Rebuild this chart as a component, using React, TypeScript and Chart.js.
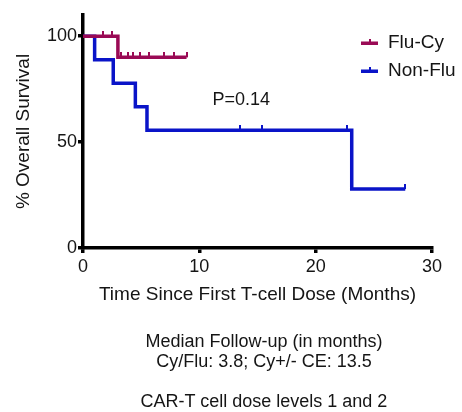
import React, { useEffect, useRef } from "react";
import { Chart, registerables } from "chart.js";

Chart.register(...registerables);

// ---- data ----
const seriesNames = ["Flu-Cy", "Non-Flu"];
const seriesColors = ["#9a0a55", "#0a14c8"];

const fluCyTimes = [0, 3.0, 8.9];
const fluCySurvival = [100, 90, 90];
const fluCyCensorTimes = [1.75, 2.45, 3.3, 3.9, 4.3, 4.9, 5.7, 7.0, 7.8, 8.9];
const fluCyCensorSurvival = [100, 100, 90, 90, 90, 90, 90, 90, 90, 90];

const nonFluTimes = [0, 1.0, 2.6, 4.5, 5.5, 23.1, 27.7];
const nonFluSurvival = [100, 88.9, 77.8, 66.7, 55.6, 27.8, 27.8];
const nonFluCensorTimes = [13.5, 15.4, 22.7, 27.7];
const nonFluCensorSurvival = [55.6, 55.6, 55.6, 27.8];

const yTickValues = [0, 50, 100];
const xMin = 0;
const xMax = 30;
const xStep = 10;
const yMin = 0;
const yMax = 110;

const xTitle = "Time Since First T-cell Dose (Months)";
const yTitle = "% Overall Survival";
const pValueText = "P=0.14";
const pValueAt = { x: 13.6, y: 70 };
const captionLines = [
  "Median Follow-up (in months)",
  "Cy/Flu: 3.8; Cy+/- CE: 13.5",
  "",
  "CAR-T cell dose levels 1 and 2",
];

const FONT = '"Liberation Sans", Arial, Helvetica, sans-serif';
const TEXT = "#151515";

function toPoints(xs: number[], ys: number[]) {
  return xs.map((x, i) => ({ x, y: ys[i] }));
}

function makeTick(color: string): HTMLCanvasElement {
  const c = document.createElement("canvas");
  c.width = 2;
  c.height = 10;
  const g = c.getContext("2d")!;
  g.fillStyle = color;
  g.fillRect(0, 0, 2, 5);
  return c;
}

const overlayPlugin = {
  id: "overlayText",
  afterDraw(chart: any) {
    const ctx = chart.ctx;
    const xs = chart.scales.x;
    const ys = chart.scales.y;
    ctx.save();
    // p-value annotation
    ctx.font = `18px ${FONT}`;
    ctx.fillStyle = TEXT;
    ctx.textAlign = "center";
    ctx.textBaseline = "middle";
    ctx.fillText(pValueText, xs.getPixelForValue(pValueAt.x), ys.getPixelForValue(pValueAt.y));
    // legend
    const rowY = [43, 71];
    seriesNames.forEach((name, i) => {
      const y = rowY[i];
      ctx.fillStyle = seriesColors[i];
      ctx.fillRect(361, y - 1.5, 17, 3.5);
      ctx.fillRect(369, y - 4, 2, 3);
      ctx.fillStyle = TEXT;
      ctx.font = `19px ${FONT}`;
      ctx.textAlign = "left";
      ctx.textBaseline = "middle";
      ctx.fillText(name, 388, y);
    });
    ctx.restore();
  },
};

export default function App() {
  const ref = useRef<HTMLCanvasElement>(null);

  useEffect(() => {
    if (!ref.current) return;
    const lineCommon = {
      borderWidth: 3.5,
      pointRadius: 0,
      fill: false,
      tension: 0,
      stepped: "before" as const,
      borderCapStyle: "butt" as const,
      borderJoinStyle: "miter" as const,
    };
    const chart = new Chart(ref.current, {
      type: "line",
      data: {
        datasets: [
          {
            label: seriesNames[0] + " censored",
            data: toPoints(fluCyCensorTimes, fluCyCensorSurvival),
            showLine: false,
            pointStyle: makeTick(seriesColors[0]) as any,
            pointRadius: 4,
            borderColor: seriesColors[0],
            backgroundColor: seriesColors[0],
          },
          {
            label: seriesNames[0],
            data: toPoints(fluCyTimes, fluCySurvival),
            borderColor: seriesColors[0],
            backgroundColor: seriesColors[0],
            ...lineCommon,
          },
          {
            label: seriesNames[1] + " censored",
            data: toPoints(nonFluCensorTimes, nonFluCensorSurvival),
            showLine: false,
            pointStyle: makeTick(seriesColors[1]) as any,
            pointRadius: 4,
            borderColor: seriesColors[1],
            backgroundColor: seriesColors[1],
          },
          {
            label: seriesNames[1],
            data: toPoints(nonFluTimes, nonFluSurvival),
            borderColor: seriesColors[1],
            backgroundColor: seriesColors[1],
            ...lineCommon,
          },
        ],
      },
      options: {
        animation: false,
        responsive: false,
        devicePixelRatio: 1,
        clip: false as any,
        layout: { padding: { left: 0, top: 15, right: 30, bottom: 104 } },
        plugins: {
          legend: { display: false },
          tooltip: { enabled: false },
        },
        scales: {
          x: {
            type: "linear",
            min: xMin,
            max: xMax,
            afterFit: (s: any) => {
              s.height = 60;
            },
            ticks: {
              stepSize: xStep,
              color: TEXT,
              font: { family: FONT, size: 18 },
              padding: 3,
              maxRotation: 0,
            },
            grid: {
              drawOnChartArea: false,
              drawTicks: true,
              tickLength: 5,
              color: "#000",
              lineWidth: 3.5,
            },
            border: { display: true, color: "#000", width: 3.5 },
            title: {
              display: true,
              text: xTitle,
              color: TEXT,
              font: { family: FONT, size: 19 },
              padding: { top: 0, bottom: 2 },
            },
          },
          y: {
            type: "linear",
            min: yMin,
            max: yMax,
            afterFit: (s: any) => {
              s.width = 83;
            },
            afterBuildTicks: (s: any) => {
              s.ticks = yTickValues.map((v) => ({ value: v }));
            },
            ticks: {
              color: TEXT,
              font: { family: FONT, size: 18 },
              padding: 1,
            },
            grid: {
              drawOnChartArea: false,
              drawTicks: true,
              tickLength: 5,
              color: "#000",
              lineWidth: 3.5,
            },
            border: { display: true, color: "#000", width: 3.5 },
            title: {
              display: true,
              text: yTitle,
              color: TEXT,
              font: { family: FONT, size: 19 },
              padding: { top: 12, bottom: 0 },
            },
          },
        },
      },
      plugins: [overlayPlugin],
    });
    return () => chart.destroy();
  }, []);

  return (
    <div
      style={{
        position: "fixed",
        left: 0,
        top: 0,
        width: 462,
        height: 412,
        background: "#fff",
        overflow: "hidden",
      }}
    >
      <canvas ref={ref} width={462} height={412} style={{ display: "block", width: 462, height: 412 }} />
      <div
        style={{
          position: "absolute",
          left: 114,
          top: 331,
          width: 300,
          textAlign: "center",
          fontFamily: FONT,
          fontSize: 18,
          lineHeight: "20px",
          color: TEXT,
          whiteSpace: "pre",
        }}
      >
        {captionLines.map((l, i) => (
          <div key={i}>{l === "" ? "\u00a0" : l}</div>
        ))}
      </div>
    </div>
  );
}
